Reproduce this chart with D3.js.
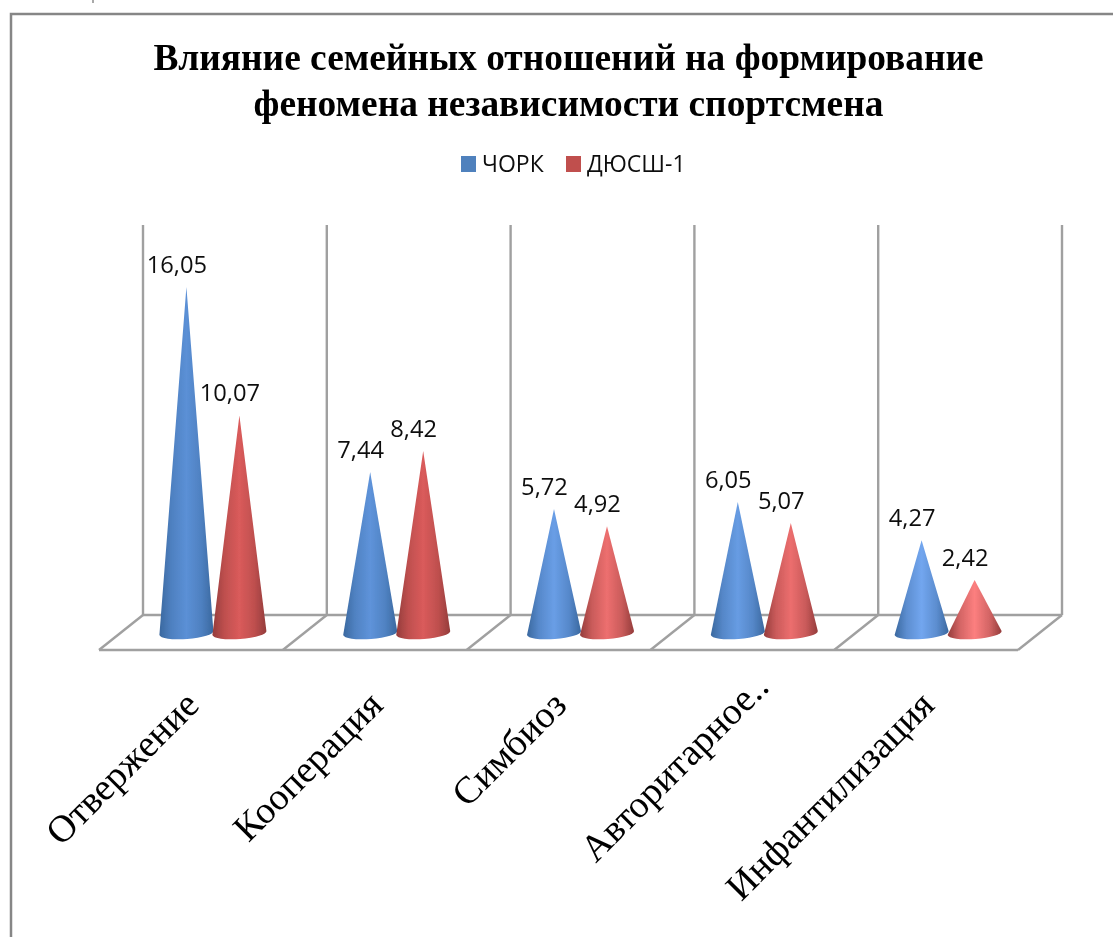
<!DOCTYPE html>
<html>
<head>
<meta charset="utf-8">
<script src="https://cdn.jsdelivr.net/npm/d3@7"></script>
<style>
  html, body { margin: 0; padding: 0; background: #fff; overflow: hidden; }
  svg { display: block; }
</style>
</head>
<body>
<div id="chart"></div>
<script>
const categories = ['Отвержение', 'Кооперация', 'Симбиоз', 'Авторитарное..', 'Инфантилизация'];
const seriesNames = ['ЧОРК', 'ДЮСШ-1'];
const chorkValues = [16.05, 7.44, 5.72, 6.05, 4.27];
const dyussh1Values = [10.07, 8.42, 4.92, 5.07, 2.42];
const titleLines = ['Влияние семейных отношений на формирование', 'феномена независимости спортсмена'];

const width = 1113;
const height = 937;
const serif = '"Liberation Serif", "Times New Roman", serif';
const sans = '"Open Sans", "Noto Sans", sans-serif';
const gridColor = '#a0a0a0';

// floor is drawn as a parallelogram, depth is how far the back wall is shifted
const floorFrontY = 650;
const floorBackY = 615;
const wallTop = 225;
const depth = 44;

const x = d3.scaleBand().domain(categories).range([99, 1018]);
const xInner = d3.scaleBand().domain(seriesNames).range([-53, 53]);
const y = d3.scaleLinear().domain([0, 18]).range([632, 632 - 18 * 21.5]);

const edgeColor = d3.scaleOrdinal().domain(seriesNames).range(['#3a689f', '#943c3b']);
const midColor = d3.scaleOrdinal().domain(seriesNames).range(['#5b90d6', '#da5b5b']);
const tipColor = d3.scaleOrdinal().domain(seriesNames).range(['#80b4ff', '#ff8282']);
const legendColor = d3.scaleOrdinal().domain(seriesNames).range(['#4f81bd', '#c0504d']);
const shine = d3.scaleLinear().domain([2, 8]).range([1, 0]).clamp(true);

const rows = [];
seriesNames.forEach((s, si) => {
  const vals = si === 0 ? chorkValues : dyussh1Values;
  vals.forEach((v, i) => rows.push({ series: s, category: categories[i], value: v, id: si + '-' + i }));
});

const svg = d3.select('#chart').append('svg')
  .attr('width', width)
  .attr('height', height);

const defs = svg.append('defs');

const blur = defs.append('filter').attr('id', 'soft');
blur.append('feGaussianBlur').attr('stdDeviation', 0.5);

rows.forEach(d => {
  const centre = d3.interpolateRgb(midColor(d.series), tipColor(d.series))(shine(d.value));
  const shoulder = d3.interpolateRgb(edgeColor(d.series), centre)(0.6);
  const grad = defs.append('linearGradient').attr('id', 'cone-' + d.id);
  grad.append('stop').attr('offset', '0%').attr('stop-color', edgeColor(d.series));
  grad.append('stop').attr('offset', '22%').attr('stop-color', shoulder);
  grad.append('stop').attr('offset', '50%').attr('stop-color', centre);
  grad.append('stop').attr('offset', '78%').attr('stop-color', shoulder);
  grad.append('stop').attr('offset', '100%').attr('stop-color', edgeColor(d.series));
});

const root = svg.append('g').attr('filter', 'url(#soft)');

// chart frame, the right side is cut off by the picture
root.append('path')
  .attr('d', `M11,${height + 5}V14H${width + 5}`)
  .attr('fill', 'none')
  .attr('stroke', '#868686')
  .attr('stroke-width', 2.5);

// leftover scrap of text above the frame
root.append('line')
  .attr('x1', 93).attr('x2', 93)
  .attr('y1', 0).attr('y2', 3)
  .attr('stroke', '#555')
  .attr('stroke-width', 1);

// back wall lines
const edges = categories.map(c => x(c)).concat([x.range()[1]]);
root.selectAll('.wall-line')
  .data(edges)
  .enter().append('line')
  .attr('class', 'wall-line')
  .attr('x1', d => d + depth)
  .attr('x2', d => d + depth)
  .attr('y1', wallTop)
  .attr('y2', floorBackY)
  .attr('stroke', gridColor)
  .attr('stroke-width', 2.4);

// floor
root.selectAll('.floor-line')
  .data(edges)
  .enter().append('line')
  .attr('class', 'floor-line')
  .attr('x1', d => d)
  .attr('x2', d => d + depth)
  .attr('y1', floorFrontY)
  .attr('y2', floorBackY)
  .attr('stroke', gridColor)
  .attr('stroke-width', 2.4);

root.append('line')
  .attr('x1', x.range()[0] + depth).attr('x2', x.range()[1] + depth)
  .attr('y1', floorBackY).attr('y2', floorBackY)
  .attr('stroke', gridColor).attr('stroke-width', 2.4);

root.append('line')
  .attr('x1', x.range()[0]).attr('x2', x.range()[1])
  .attr('y1', floorFrontY).attr('y2', floorFrontY)
  .attr('stroke', gridColor).attr('stroke-width', 2.4);

// cones, the base ellipse is tipped a little like in the 3d original
const coneX = d => x(d.category) + x.bandwidth() / 2 + depth / 2 + xInner(d.series) + xInner.bandwidth() / 2;
const rx = 27;
const ry = 6;
const tilt = 2;

root.selectAll('.cone')
  .data(rows)
  .enter().append('path')
  .attr('class', 'cone')
  .attr('d', d => {
    const cx = coneX(d);
    const by = y(0) + 1;
    return `M${cx},${y(d.value)}L${cx + rx},${by - tilt}A${rx},${ry} -4 0 1 ${cx - rx},${by + tilt}Z`;
  })
  .attr('fill', d => `url(#cone-${d.id})`);

root.selectAll('.value-label')
  .data(rows)
  .enter().append('text')
  .attr('class', 'value-label')
  .attr('x', d => coneX(d) - 9.5)
  .attr('y', d => y(d.value) - 14)
  .attr('text-anchor', 'middle')
  .attr('font-family', sans)
  .attr('font-size', 23.7)
  .attr('fill', '#111')
  .text(d => d.value.toFixed(2).replace('.', ','));

// category labels
const xAxis = root.append('g')
  .attr('transform', `translate(0,${floorFrontY})`)
  .call(d3.axisBottom(x).tickSize(0));

xAxis.select('.domain').remove();

xAxis.selectAll('text')
  .attr('font-family', serif)
  .attr('font-size', 38)
  .attr('fill', '#000')
  .attr('text-anchor', 'end')
  .attr('dy', 0)
  .attr('dx', d => d.endsWith('..') ? 26 : 0) // the cut off label sits further along
  .attr('transform', 'translate(8,55) rotate(-45)');

// title
root.selectAll('.title-line')
  .data(titleLines)
  .enter().append('text')
  .attr('class', 'title-line')
  .attr('x', 568.5)
  .attr('y', (d, i) => 70 + i * 46)
  .attr('text-anchor', 'middle')
  .attr('font-family', serif)
  .attr('font-weight', 'bold')
  .attr('font-size', 37.4)
  .attr('fill', '#000')
  .text(d => d);

// legend
const legendX = d3.scaleOrdinal().domain(seriesNames).range([461, 566]);

root.selectAll('.legend-box')
  .data(seriesNames)
  .enter().append('rect')
  .attr('class', 'legend-box')
  .attr('x', d => legendX(d))
  .attr('y', 156)
  .attr('width', 15)
  .attr('height', 16)
  .attr('fill', d => legendColor(d));

root.selectAll('.legend-label')
  .data(seriesNames)
  .enter().append('text')
  .attr('class', 'legend-label')
  .attr('x', d => legendX(d) + 21)
  .attr('y', 172)
  .attr('font-family', sans)
  .attr('font-size', 23)
  .attr('fill', '#111')
  .text(d => d);
</script>
</body>
</html>
